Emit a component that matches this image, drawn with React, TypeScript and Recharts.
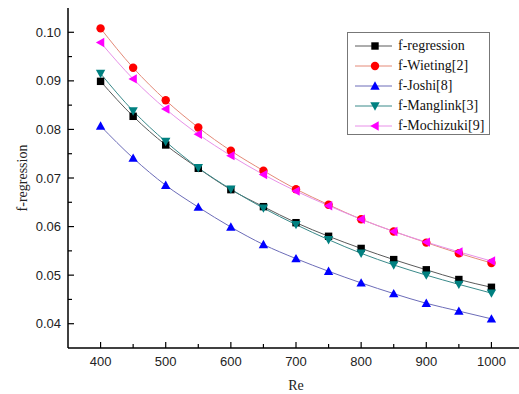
import { LineChart, Line, XAxis, YAxis, Legend } from 'recharts'

const reValues = [400, 450, 500, 550, 600, 650, 700, 750, 800, 850, 900, 950, 1000]

const fRegression = [0.0899, 0.0827, 0.0768, 0.0720, 0.0676, 0.0641, 0.0608, 0.0580, 0.0555, 0.0532, 0.0511, 0.0491, 0.0475]
const fWieting = [0.1008, 0.0927, 0.0860, 0.0804, 0.0756, 0.0715, 0.0677, 0.0645, 0.0615, 0.0590, 0.0567, 0.0545, 0.0525]
const fJoshi = [0.0807, 0.0741, 0.0685, 0.0640, 0.0599, 0.0563, 0.0534, 0.0508, 0.0484, 0.0462, 0.0442, 0.0426, 0.0410]
const fManglink = [0.0915, 0.0838, 0.0775, 0.0721, 0.0677, 0.0638, 0.0604, 0.0573, 0.0545, 0.0521, 0.0500, 0.0481, 0.0463]
const fMochizuki = [0.0979, 0.0904, 0.0842, 0.0790, 0.0746, 0.0707, 0.0673, 0.0643, 0.0615, 0.0590, 0.0568, 0.0548, 0.0529]

const xTicks = [400, 450, 500, 550, 600, 650, 700, 750, 800, 850, 900, 950, 1000]
const yTicks = [0.04, 0.045, 0.05, 0.055, 0.06, 0.065, 0.07, 0.075, 0.08, 0.085, 0.09, 0.095, 0.1]

type Shape = 'square' | 'circle' | 'up' | 'down' | 'left'

const SERIES: { key: string; name: string; values: number[]; color: string; line: string; shape: Shape }[] = [
  { key: 'reg', name: 'f-regression', values: fRegression, color: '#000000', line: '#5a5a5a', shape: 'square' },
  { key: 'wieting', name: 'f-Wieting[2]', values: fWieting, color: '#ff0000', line: '#e48a78', shape: 'circle' },
  { key: 'joshi', name: 'f-Joshi[8]', values: fJoshi, color: '#0000ff', line: '#6c6cb8', shape: 'up' },
  { key: 'manglink', name: 'f-Manglink[3]', values: fManglink, color: '#008080', line: '#3a8a8a', shape: 'down' },
  { key: 'mochizuki', name: 'f-Mochizuki[9]', values: fMochizuki, color: '#ff00ff', line: '#e890e8', shape: 'left' },
]

const data = reValues.map((re, i) => {
  const row: Record<string, number> = { re }
  SERIES.forEach(s => { row[s.key] = s.values[i] })
  return row
})

const TICK_FONT = '"Liberation Sans", Arial, sans-serif'
const SERIF = '"Liberation Serif", "Times New Roman", serif'

function Marker({ cx, cy, shape, color }: { cx: number; cy: number; shape: Shape; color: string }) {
  if (cx == null || cy == null) return null
  const s = 4.2
  switch (shape) {
    case 'square':
      return <rect x={cx - s + 0.5} y={cy - s + 0.5} width={2 * s - 1} height={2 * s - 1} fill={color} />
    case 'circle':
      return <circle cx={cx} cy={cy} r={s} fill={color} />
    case 'up':
      return <polygon points={`${cx},${cy - s - 0.5} ${cx + s + 0.5},${cy + s - 0.5} ${cx - s - 0.5},${cy + s - 0.5}`} fill={color} />
    case 'down':
      return <polygon points={`${cx},${cy + s + 0.5} ${cx + s + 0.5},${cy - s + 0.5} ${cx - s - 0.5},${cy - s + 0.5}`} fill={color} />
    case 'left':
      return <polygon points={`${cx - s - 0.5},${cy} ${cx + s - 0.5},${cy - s - 0.5} ${cx + s - 0.5},${cy + s + 0.5}`} fill={color} />
  }
}

const isMajorY = (v: number) => Math.round(v * 1000) % 10 === 0
const isMajorX = (v: number) => v % 100 === 0

// ticks are drawn by hand so that they point inward (Origin style) with minor ticks
const LeftTick = (props: any) => {
  const { x, y, payload } = props
  const major = isMajorY(payload.value)
  return (
    <g>
      <line x1={x} x2={x + (major ? 6 : 4)} y1={y} y2={y} stroke="#000" strokeWidth={1.2} />
      {major && (
        <text x={x - 7} y={y} dy="0.355em" textAnchor="end" fontSize={13} fontFamily={TICK_FONT} fill="#222">
          {payload.value.toFixed(2)}
        </text>
      )}
    </g>
  )
}

const RightTick = (props: any) => {
  const { x, y, payload } = props
  const major = isMajorY(payload.value)
  return <line x1={x} x2={x - (major ? 6 : 4)} y1={y} y2={y} stroke="#000" strokeWidth={1.2} />
}

const BottomTick = (props: any) => {
  const { x, y, payload } = props
  const major = isMajorX(payload.value)
  return (
    <g>
      <line x1={x} x2={x} y1={y} y2={y - (major ? 6 : 4)} stroke="#000" strokeWidth={1.2} />
      {major && (
        <text x={x} y={y + 9} dy="0.71em" textAnchor="middle" fontSize={13} fontFamily={TICK_FONT} fill="#222">
          {payload.value}
        </text>
      )}
    </g>
  )
}

const TopTick = (props: any) => {
  const { x, y, payload } = props
  const major = isMajorX(payload.value)
  return <line x1={x} x2={x} y1={y} y2={y + (major ? 6 : 4)} stroke="#000" strokeWidth={1.2} />
}

const LegendBox = () => (
  <div
    style={{
      width: 143,
      height: 103,
      boxSizing: 'border-box',
      border: '1px solid #777',
      background: '#fff',
      paddingTop: 3,
    }}
  >
    {SERIES.map(s => (
      <div key={s.key} style={{ display: 'flex', alignItems: 'center', height: 20, whiteSpace: 'nowrap' }}>
        <svg width={50} height={20} style={{ display: 'block', flex: 'none' }}>
          <line x1={7} x2={44} y1={10} y2={10} stroke={s.line} strokeWidth={1} />
          <Marker cx={27} cy={10} shape={s.shape} color={s.color} />
        </svg>
        <span style={{ fontFamily: SERIF, fontSize: 14, color: '#111', lineHeight: '20px' }}>{s.name}</span>
      </div>
    ))}
  </div>
)

export default function App() {
  return (
    <div style={{ position: 'absolute', left: 0, top: 0, width: 519, height: 394, overflow: 'hidden', background: '#fff' }}>
      <LineChart width={530} height={394} data={data} margin={{ top: 8, right: 6, bottom: 0, left: 0 }}>
        <XAxis
          xAxisId="bottom"
          dataKey="re"
          type="number"
          domain={[350, 1050]}
          ticks={xTicks}
          interval={0}
          height={46}
          tickSize={0}
          tickMargin={0}
          tick={BottomTick}
          axisLine={{ stroke: '#000', strokeWidth: 1.5 }}
          label={{ value: 'Re', position: 'insideBottom', offset: 4, fontSize: 14, fontFamily: SERIF, fill: '#222' }}
        />
        <XAxis
          xAxisId="top"
          orientation="top"
          dataKey="re"
          type="number"
          domain={[350, 1050]}
          ticks={xTicks}
          interval={0}
          height={0}
          tickSize={0}
          tickMargin={0}
          tick={TopTick}
          axisLine={{ stroke: '#000', strokeWidth: 1.5 }}
        />
        <YAxis
          yAxisId="left"
          type="number"
          domain={[0.035, 0.105]}
          ticks={yTicks}
          interval={0}
          width={68}
          tickSize={0}
          tickMargin={0}
          tick={LeftTick}
          axisLine={{ stroke: '#000', strokeWidth: 1.5 }}
          label={{
            value: 'f-regression',
            angle: -90,
            position: 'insideLeft',
            offset: 22,
            fontSize: 14,
            fontFamily: SERIF,
            fill: '#222',
            style: { textAnchor: 'middle' },
          }}
        />
        <YAxis
          yAxisId="right"
          orientation="right"
          type="number"
          domain={[0.035, 0.105]}
          ticks={yTicks}
          interval={0}
          width={0}
          tickSize={0}
          tickMargin={0}
          tick={RightTick}
          axisLine={{ stroke: '#000', strokeWidth: 1.5 }}
        />
        <Legend
          layout="vertical"
          align="center"
          verticalAlign="middle"
          content={LegendBox}
          wrapperStyle={{ left: 347, top: 32, width: 143, height: 103 }}
        />
        {SERIES.map(s => (
          <Line
            key={s.key}
            xAxisId="bottom"
            yAxisId="left"
            dataKey={s.key}
            name={s.name}
            type="monotone"
            stroke={s.line}
            strokeWidth={1}
            isAnimationActive={false}
            activeDot={false}
            dot={(p: any) => <Marker key={`${s.key}-${p.index}`} cx={p.cx} cy={p.cy} shape={s.shape} color={s.color} />}
          />
        ))}
      </LineChart>
    </div>
  )
}
